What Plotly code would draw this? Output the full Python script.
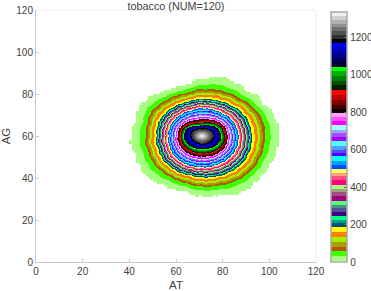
import numpy as np
import plotly.graph_objects as go

TITLE = "tobacco (NUM=120)"
X_LABEL = "AT"
Y_LABEL = "AG"
TICKS_AXIS = [0, 20, 40, 60, 80, 100, 120]
TICKS_BAR = [0, 200, 400, 600, 800, 1000, 1200]

# colour bands: upper edge of each band and its colour
BAND_TOP = [5, 33, 59, 82, 107, 132, 162, 186, 207, 225, 246, 268, 287, 305, 328, 350, 371, 389, 412,
            436, 457, 475, 496, 520, 541, 564, 582, 600, 621, 645, 665, 686, 707, 729, 750, 772, 793,
            816, 840, 865, 890, 917, 942, 967, 992, 1017, 1042, 1068, 1094, 1120, 1145, 1170,
            1190, 1211, 1231, 1252, 1272, 1293, 1313, 1334]
BAND_COLOR = ["#ffffff", "#a6ff80", "#40ff00", "#b05a00", "#a8a000", "#a0f000", "#ff8000", "#ffff00",
              "#005080", "#00a080", "#00ff80", "#400080", "#505090", "#509080", "#50ff80",
              "#a00080", "#a05080", "#a0a080", "#a0ff80", "#ff0080", "#ff5080", "#ffa080", "#ffff60",
              "#0050ff", "#00a0ff", "#00ffff", "#5000ff", "#5050ff", "#50a0ff", "#50ffff",
              "#a000ff", "#a050ff", "#a0a0ff", "#a0ffff", "#ff00ff", "#ff50ff", "#ffa0ff",
              "#100000", "#400000", "#800000", "#c00000", "#ff0000",
              "#002000", "#005000", "#008000", "#00b000", "#00ff00",
              "#000030", "#000060", "#000090", "#0000c0", "#0000ff",
              "#000000", "#303030", "#505050", "#707070", "#909090", "#b0b0b0", "#d0d0d0", "#f0f0f0"]

# contour radii, every 15 degrees counter-clockwise from east
CENTER_AT = 71.0
CENTER_AG = 60.0
ANGLES = list(range(0, 360, 15))
LEVEL_VALUES = [6, 33, 60, 190, 496, 793, 917, 1042, 1170]
R_6 = [33, 33, 31, 29.5, 29.2, 29.2, 27, 25.7, 25.8, 28, 30.5, 29, 30.5, 29.9, 30.5, 30, 28, 27.5, 28.8, 29.2, 31.5, 32, 32, 33]
R_33 = [29.4, 29.5, 28, 26.5, 25.8, 25.4, 24, 23.2, 23.5, 25, 26.9, 26, 26.6, 26.4, 26.8, 26.4, 25.3, 25.1, 25.9, 26.4, 27.9, 28.7, 29, 29.4]
R_60 = [27, 27.2, 26, 24.5, 23.5, 22.8, 22, 21.5, 22, 23, 24.5, 24, 24, 24, 24.3, 24, 23.5, 23.5, 24, 24.5, 25.5, 26.5, 27, 27]
R_190 = [21.4, 21.2, 20.5, 19.5, 18.5, 17.8, 17.5, 17.3, 17.5, 18.3, 19.2, 19.3, 19.3, 19.5, 19.8, 19.8, 19.5, 19.3, 19.4, 20, 20.6, 21.3, 21.6, 21.6]
R_496 = [15.7, 15.5, 15, 14.3, 13.7, 13.3, 13.2, 13, 13.2, 13.6, 14.2, 14.3, 14.3, 14.6, 15, 15.2, 15, 14.9, 14.9, 15.1, 15.3, 15.6, 15.9, 15.9]
R_793 = [11.1, 11, 10.5, 9.7, 8.8, 8.2, 7.9, 7.9, 8.3, 9, 9.8, 10.2, 10.3, 10.4, 10.4, 10.2, 10, 9.8, 9.8, 10, 10.4, 10.8, 11.2, 11.2]
R_917 = [10, 9.8, 9.3, 8.4, 7.4, 6.7, 6.3, 6.3, 6.8, 7.6, 8.5, 8.9, 9, 9, 8.9, 8.6, 8.4, 8.3, 8.3, 8.5, 8.9, 9.4, 9.9, 10.1]
R_1042 = [8.3, 8.1, 7.6, 6.7, 5.8, 5.2, 5, 5.1, 5.6, 6.3, 7.2, 7.5, 7.6, 7.5, 7.2, 6.8, 6.5, 6.3, 6.3, 6.5, 6.8, 7.4, 8, 8.3]
R_1170 = [5.9, 5.8, 5.4, 4.8, 4.2, 3.8, 3.7, 3.8, 4.1, 4.6, 5, 5.1, 5, 4.9, 4.6, 4.3, 4.2, 4.2, 4.3, 4.4, 4.5, 4.8, 5.3, 5.7]
PEAK = 1330
# small irregularity of the ring edges, every 5 degrees, as seen on the rings
EDGE_ANGLES = list(range(0, 360, 5))
EDGE_WOBBLE = [0.3, -0.2, 0.2, -0.4, 0.1, 0.4, -0.3, 0.2, 0.5, -0.2, -0.4, 0.3, 0.1, -0.3, 0.4, -0.1, 0.3, -0.4,
               0.2, 0.5, -0.2, 0.1, -0.4, 0.3, -0.1, 0.4, -0.3, 0.2, 0.3, -0.4, 0.1, -0.2, 0.4, -0.3, 0.2, 0.1,
               -0.4, 0.3, 0.5, -0.1, -0.3, 0.2, -0.4, 0.4, 0.1, -0.2, 0.3, -0.3, 0.5, -0.1, 0.2, -0.4, 0.1, 0.3,
               -0.3, 0.4, -0.1, 0.2, -0.4, 0.3, 0.1, -0.2, 0.5, -0.3, 0.2, -0.1, 0.4, -0.4, 0.1, 0.3, -0.2, 0.2]

RADII = np.array([R_6, R_33, R_60, R_190, R_496, R_793, R_917, R_1042, R_1170])

# rebuild the density image from the contours, one cell per screen pixel
NX, NY = 280, 252
grid_x = (np.arange(NX) + 0.5) * 120 / NX
grid_y = (np.arange(NY) + 0.5) * 120 / NY
ang_closed = np.array(ANGLES + [360], float)
edge_closed = np.array(EDGE_ANGLES + [360], float)
wobble_closed = np.array(EDGE_WOBBLE + [EDGE_WOBBLE[0]])
xp_levels = LEVEL_VALUES[::-1]
z = np.full((NY, NX), np.nan)
for j, ag in enumerate(grid_y):
    for i, at in enumerate(grid_x):
        if not (35 < at < 110 and 25 < ag < 95):
            continue
        # outer edge follows the coarse 1-unit histogram bins
        cx, cy = np.floor(at) + 0.5 - CENTER_AT, np.floor(ag) + 0.5 - CENTER_AG
        cth = np.degrees(np.arctan2(cy, cx)) % 360
        if np.hypot(cx, cy) > np.interp(cth, ang_closed, list(R_6) + [R_6[0]]) + 1.5 * np.interp(cth, edge_closed, wobble_closed):
            continue
        dx, dy = at - CENTER_AT, ag - CENTER_AG
        rho = np.hypot(dx, dy)
        th = np.degrees(np.arctan2(dy, dx)) % 360
        w = 0.7 * np.interp(th, edge_closed, wobble_closed)
        rs = [np.interp(th, ang_closed, list(row) + [row[0]]) + w * min(1.0, row.mean() / 20) for row in RADII]
        z[j, i] = max(np.interp(rho, [0.0] + rs[::-1], [PEAK] + xp_levels), LEVEL_VALUES[0])

ZMAX = BAND_TOP[-1]
colorscale = []
low = 0
for top, col in zip(BAND_TOP, BAND_COLOR):
    colorscale.append([low / ZMAX, col])
    colorscale.append([top / ZMAX, col])
    low = top

AXIS_LINE = "#c8c8c8"
BOX_LINE = "#ececec"
TEXT = "#404040"
FONT = "Liberation Sans, Arial, sans-serif"
TICK_SIZE = 10

fig = go.Figure(go.Heatmap(
    x=grid_x, y=grid_y, z=z, zmin=0, zmax=ZMAX, colorscale=colorscale, hoverongaps=False,
    colorbar=dict(
        thickness=16, thicknessmode="pixels", len=250, lenmode="pixels",
        x=1.0536, xanchor="left", xpad=0, y=0, yanchor="bottom", ypad=0,
        tickvals=TICKS_BAR, ticks="inside", ticklen=3, tickcolor="#606060", tickwidth=1,
        outlinecolor="#a8a8a8", outlinewidth=1.5, borderwidth=0,
        tickfont=dict(family=FONT, size=TICK_SIZE, color=TEXT),
    ),
))

axis = dict(range=[0, 120], tickvals=TICKS_AXIS, showgrid=False, zeroline=False, showline=True,
            linecolor=AXIS_LINE, linewidth=1, ticks="inside", ticklen=3, tickcolor=AXIS_LINE,
            tickfont=dict(family=FONT, size=TICK_SIZE, color=TEXT))
fig.update_layout(
    width=371, height=291, margin=dict(l=36, r=55, t=10, b=29, autoexpand=False),
    paper_bgcolor="white", plot_bgcolor="white",
    title=dict(text=TITLE, x=(36 + 140) / 371, xanchor="center", y=1 - 6 / 291, yanchor="middle",
               font=dict(family=FONT, size=10.8, color=TEXT)),
    xaxis=dict(axis, title=dict(text=X_LABEL, standoff=5, font=dict(family=FONT, size=11.5, color=TEXT))),
    yaxis=dict(axis, title=dict(text=Y_LABEL, standoff=4, font=dict(family=FONT, size=11.5, color=TEXT))),
    shapes=[
        dict(type="line", xref="paper", yref="paper", x0=0, x1=1, y0=1, y1=1, line=dict(color=BOX_LINE, width=1)),
        dict(type="line", xref="paper", yref="paper", x0=1, x1=1, y0=0, y1=1, line=dict(color=BOX_LINE, width=1)),
    ],
)
fig.write_html("out.html", config=dict(displayModeBar=False),
               post_script="document.body.style.margin='0';document.body.style.overflow='hidden';")
